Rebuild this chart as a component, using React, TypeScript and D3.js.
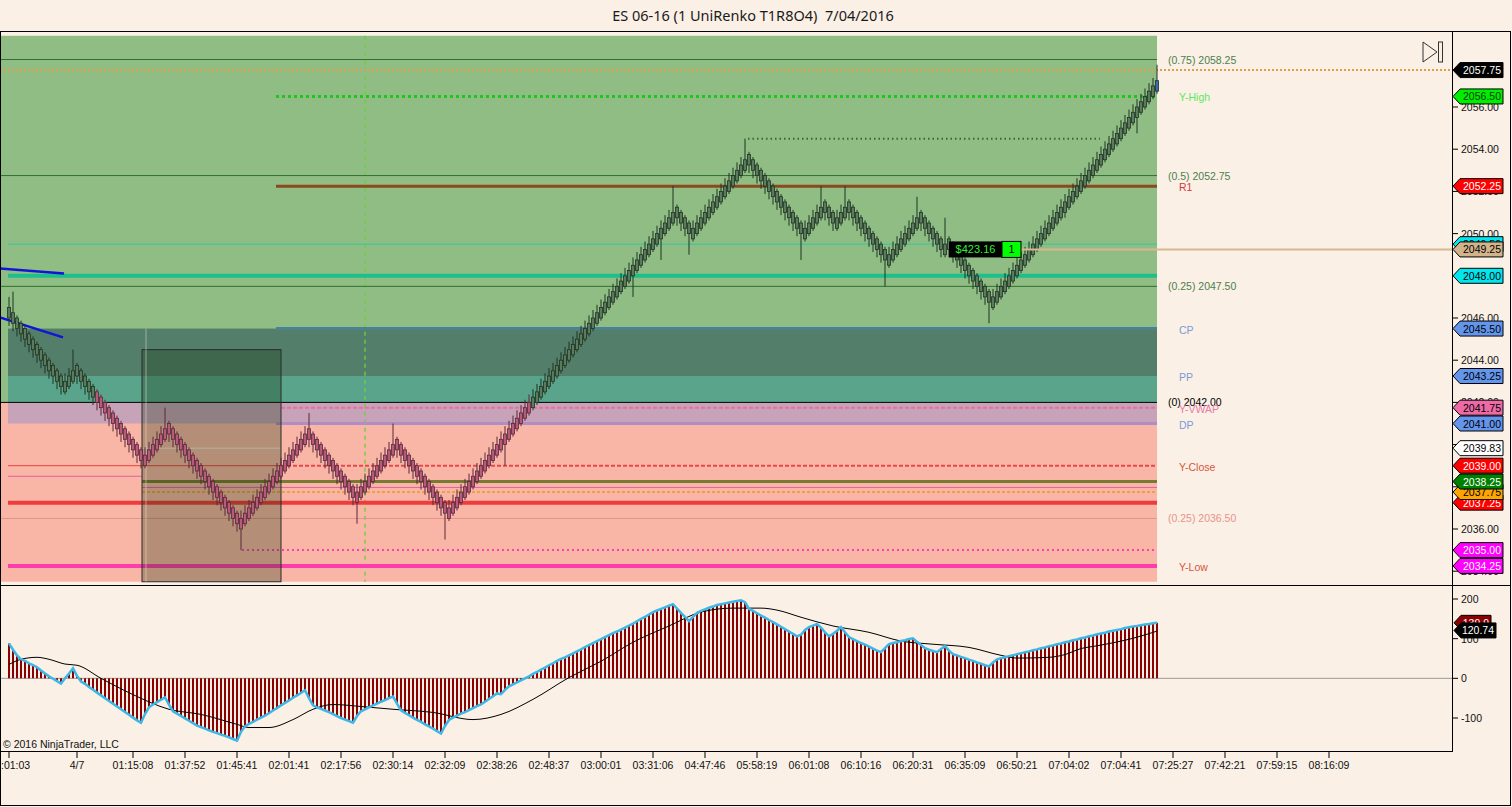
import React from 'react';
import * as d3 from 'd3';

const TITLE = 'ES 06-16 (1 UniRenko T1R8O4)  7/04/2016';
const COPYRIGHT = '© 2016 NinjaTrader, LLC';
const FONT = "'Liberation Sans', Arial, sans-serif";

// UniRenko closes, counted in ticks (0.25) from 2042.00
const TICK = 0.25;
const BASE = 2042;
const closeTicks = [
  16, 15, 14, 13, 12, 11, 10, 9, 8, 7,
  6, 5, 4, 3, 4, 5, 6, 5, 4, 3,
  2, 1, 0, -1, -2, -3, -4, -5, -6, -7,
  -8, -9, -10, -11, -10, -9, -8, -7, -6, -5,
  -6, -7, -8, -9, -10, -11, -12, -13, -14, -15,
  -16, -17, -18, -19, -20, -21, -22, -23, -22, -21,
  -20, -19, -18, -17, -16, -15, -14, -13, -12, -11,
  -10, -9, -8, -7, -6, -7, -8, -9, -10, -11,
  -12, -13, -14, -15, -16, -17, -18, -17, -16, -15,
  -14, -13, -12, -11, -10, -9, -8, -9, -10, -11,
  -12, -13, -14, -15, -16, -17, -18, -19, -20, -21,
  -20, -19, -18, -17, -16, -15, -14, -13, -12, -11,
  -10, -9, -8, -7, -6, -5, -4, -3, -2, -1,
  0, 1, 2, 3, 4, 5, 6, 7, 8, 9,
  10, 11, 12, 13, 14, 15, 16, 17, 18, 19,
  20, 21, 22, 23, 24, 25, 26, 27, 28, 29,
  30, 31, 32, 33, 34, 35, 36, 35, 34, 33,
  32, 33, 34, 35, 36, 37, 38, 39, 40, 41,
  42, 43, 44, 45, 46, 45, 44, 43, 42, 41,
  40, 39, 38, 37, 36, 35, 34, 33, 32, 33,
  34, 35, 36, 37, 36, 35, 34, 35, 36, 37,
  36, 35, 34, 33, 32, 31, 30, 29, 28, 27,
  28, 29, 30, 31, 32, 33, 34, 35, 34, 33,
  32, 31, 30, 29, 30, 29, 28, 27, 26, 25,
  24, 23, 22, 21, 20, 19, 20, 21, 22, 23,
  24, 25, 26, 27, 28, 29, 30, 31, 32, 33,
  34, 35, 36, 37, 38, 39, 40, 41, 42, 43,
  44, 45, 46, 47, 48, 49, 50, 51, 52, 53,
  54, 55, 56, 57, 58, 59, 60, 61,
];

// bars whose wick runs well past the body: [bar, extreme in ticks]
const longWicks: [number, number][] = [
  [0, 20], [1, 21], [16, 10], [39, -1], [58, -28], [75, -2], [87, -23], [96, -4],
  [109, -26], [124, -12], [156, 20], [163, 27], [166, 41], [170, 28], [184, 50],
  [198, 27], [203, 41], [209, 41], [219, 22], [227, 39], [234, 35], [245, 15],
  [264, 35], [282, 51], [287, 64],
];

// oscillator (histogram + cyan line), one value per bar
const oscValues = [
  88, 72, 58, 48, 44, 38, 33, 28, 20, 12,
  5, -1, -7, -13, 0, 12, 25, 6, -8, -14,
  -22, -29, -36, -43, -50, -57, -64, -71, -78, -85,
  -92, -99, -106, -112, -90, -73, -66, -60, -54, -48,
  -66, -83, -89, -95, -101, -107, -113, -119, -123, -127,
  -131, -135, -138, -142, -145, -149, -153, -157, -135, -121,
  -115, -110, -104, -99, -94, -88, -81, -75, -68, -62,
  -56, -49, -43, -37, -30, -50, -68, -73, -77, -81,
  -85, -90, -95, -100, -104, -108, -112, -95, -83, -78,
  -73, -68, -64, -59, -55, -50, -46, -64, -81, -87,
  -93, -99, -105, -110, -116, -121, -127, -133, -139, -120,
  -105, -99, -94, -89, -85, -80, -75, -70, -66, -59,
  -52, -45, -38, -40, -29, -20, -15, -10, -5, 0,
  5, 11, 16, 22, 27, 33, 38, 44, 49, 53,
  58, 63, 68, 73, 79, 84, 89, 94, 99, 104,
  109, 114, 118, 123, 128, 133, 138, 144, 150, 155,
  161, 167, 171, 175, 179, 183, 187, 176, 165, 155,
  144, 155, 165, 170, 174, 178, 181, 185, 187, 189,
  191, 193, 195, 197, 192, 175, 170, 164, 158, 153,
  147, 142, 136, 130, 124, 118, 112, 106, 110, 122,
  129, 133, 137, 128, 116, 106, 112, 120, 129, 116,
  104, 99, 94, 89, 85, 80, 75, 70, 66, 76,
  86, 89, 91, 94, 96, 99, 101, 92, 84, 76,
  72, 69, 66, 74, 81, 70, 61, 58, 54, 51,
  47, 44, 40, 37, 33, 30, 40, 48, 51, 53,
  56, 58, 61, 63, 66, 68, 71, 73, 76, 78,
  81, 83, 86, 88, 91, 93, 96, 98, 101, 103,
  106, 108, 111, 113, 115, 118, 120, 122, 124, 127,
  129, 131, 132, 134, 136, 137, 139, 140,
];

// signal line, read at [bar, value]
const signalPoints: [number, number][] = [
  [0, 35], [3, 48], [7, 53], [10, 48], [14, 36], [17, 33], [23, 0], [31, -41],
  [40, -78], [48, -91], [57, -116], [60, -124], [65, -124], [71, -104], [76, -78],
  [81, -66], [88, -71], [96, -78], [106, -86], [116, -104], [123, -91], [131, -53],
  [140, 2], [148, 43], [156, 91], [165, 132], [173, 167], [181, 177], [188, 177],
  [192, 172], [198, 154], [206, 132], [215, 116], [223, 94], [231, 86], [240, 78],
  [248, 58], [252, 51], [260, 53], [264, 60], [268, 75], [272, 82], [281, 101], [287, 119],
];

const timeLabels = [
  ':01:03', '4/7', '01:15:08', '01:37:52', '01:45:41', '02:01:41', '02:17:56', '02:30:14',
  '02:32:09', '02:38:26', '02:48:37', '03:00:01', '03:31:06', '04:47:46', '05:58:19',
  '06:01:08', '06:10:16', '06:20:31', '06:35:09', '06:50:21', '07:04:02', '07:04:41',
  '07:25:27', '07:42:21', '07:59:15', '08:16:09',
];
const timeLabelBars = [0, 17, 31, 44, 57, 70, 83, 96, 109, 122, 135, 148, 161, 174, 187,
  200, 213, 226, 239, 252, 265, 278, 291, 304, 317, 330];

const priceTicks = [2034, 2036, 2038, 2040, 2042, 2044, 2046, 2048, 2050, 2052, 2054, 2056];
const oscTicks = [-100, 0, 100, 200];

const fibPrices = [2058.25, 2052.75, 2047.5, 2042.0, 2036.5];
const fibLabels = ['(0.75) 2058.25', '(0.5) 2052.75', '(0.25) 2047.50', '(0) 2042.00', '(0.25) 2036.50'];

const pivotNames = ['Y-High', 'R1', 'CP', 'PP', 'Y-VWAP', 'DP', 'Y-Close', 'Y-Low'];
const pivotPrices = [2056.5, 2052.25, 2045.5, 2043.25, 2041.75, 2041.0, 2039.0, 2034.25];

const lastPrice = 2057.75;
const priorHigh = 2054.5;
const zoneTop = 2059.375;
const zoneBottom = 2033.5;
const boxTop = 2044.5;
const otherLevels = [2049.5, 2048.0, 2039.83, 2038.5, 2038.25, 2037.97, 2037.75, 2037.25, 2035.0];

const positionPrice = 2049.25;
const positionPnL = '$423.16';
const positionQty = '1';

const trendLines: [number, number][][] = [
  [[-2.25, 2048.35], [13.75, 2048.11]],
  [[-2.25, 2046.03], [13.5, 2045.08]],
];

const markerPrices = [2057.75, 2056.5, 2052.25, 2049.5, 2049.25, 2048.0, 2045.5, 2043.25,
  2041.75, 2041.0, 2039.83, 2039.0, 2037.25, 2037.75, 2038.25, 2035.0, 2034.25];
const oscLast = 139.9;
const signalLast = 120.74;

export default function App() {
  const xb = d3.scaleLinear().domain([0, 330]).range([9, 1329]);
  const yP = d3.scaleLinear().domain([2036, 2056]).range([529, 107]);
  const yO = d3.scaleLinear().domain([-100, 200]).range([718, 599]);
  const px = (t: number) => BASE + t * TICK;

  const AXIS_X = 1452;

  // candles
  let dir = -1;
  const candles = closeTicks.map((t, i) => {
    if (i > 0 && t !== closeTicks[i - 1]) dir = t > closeTicks[i - 1] ? 1 : -1;
    const o = t - dir * 2;
    let hi = dir > 0 ? t + 1.5 : o + 0.5;
    let lo = dir > 0 ? o - 0.5 : t - 1.5;
    const w = longWicks.find((d) => d[0] === i);
    if (w) { if (w[1] > hi) hi = w[1]; if (w[1] < lo) lo = w[1]; }
    return { i, c: px(t), o: px(o), h: px(hi), l: px(lo) };
  });

  const cyanLine = d3.line<number>().x((_, i) => xb(i)).y((v) => yO(v));
  const signalLine = d3.line<[number, number]>()
    .x((d) => xb(d[0])).y((d) => yO(d[1])).curve(d3.curveMonotoneX);
  const trendLine = d3.line<[number, number]>().x((d) => xb(d[0])).y((d) => yP(d[1]));

  // horizontal levels: price, from bar, to bar, colour, width, dash
  const hLines: [number, number, number, string, number, string?][] = [
    [fibPrices[0], -2.25, 287, '#2f6f2f', 1],
    [fibPrices[1], -2.25, 287, '#2f6f2f', 1],
    [fibPrices[2], -2.25, 287, '#2f6f2f', 1],
    [fibPrices[4], -2.25, 287, '#e3928a', 1],
    [lastPrice, -2.25, 360.75, '#e0a048', 2, '2,2'],
    [pivotPrices[0], 66.75, 287, '#22c422', 3, '3,3'],
    [priorHigh, 184.75, 272.75, '#2f6a2f', 2, '1.5,3'],
    [pivotPrices[1], 66.75, 287, '#8b4a1e', 3],
    [otherLevels[0], -0.25, 287, '#2fc9a0', 1],
    [otherLevels[1], -0.25, 287, '#1fbf8b', 4],
    [pivotPrices[2], 66.75, 287, '#4a8294', 3],
    [pivotPrices[4], 68, 287, '#e8709a', 2, '4,2'],
    [pivotPrices[5], 66.75, 287, '#b08ec4', 3],
    [otherLevels[2], 33.25, 68, '#f6ece2', 1],
    [pivotPrices[6], -0.25, 68, '#e84040', 1],
    [pivotPrices[6], 68, 287, '#e84848', 2, '4,2'],
    [otherLevels[3], -0.25, 33.25, '#e060a0', 1],
    [otherLevels[5], 33.25, 287, '#e060a0', 1],
    [otherLevels[4], 33.25, 287, '#777a30', 3],
    [otherLevels[6], 33.25, 287, '#f0a040', 2, '3,2'],
    [otherLevels[7], -0.25, 287, '#ee3b3b', 4],
    [otherLevels[8], 58.25, 287, '#ff40b0', 2, '2,3'],
    [pivotPrices[7], -0.25, 287, '#ff3cac', 4],
    [fibPrices[3], -2.25, 287, '#000000', 1],
  ];

  const fibColors = ['#4d7f4d', '#4d7f4d', '#4d7f4d', '#000000', '#e8938a'];
  const pivotColors = ['#5ee65e', '#d43a3a', '#7a9ad8', '#7a9ad8', '#e87aa8', '#7a9ad8', '#d9553d', '#d9553d'];
  const markerColors: [string, string][] = [
    ['#000000', '#ffffff'], ['#00ee00', '#0a3a0a'], ['#ff0000', '#ffffff'], ['#00e5ee', '#000000'],
    ['#d2b48c', '#000000'], ['#00e5ee', '#000000'], ['#6495ed', '#000000'], ['#6495ed', '#000000'],
    ['#ee6aa7', '#000000'], ['#6495ed', '#000000'], ['#ffffff', '#000000'], ['#ff0000', '#ffffff'],
    ['#ff0000', '#ffffff'], ['#ffa500', '#000000'], ['#008000', '#ffffff'], ['#ff00ff', '#ffffff'],
    ['#ff00ff', '#ffffff'],
  ];

  const marker = (cy: number, x0: number, x1: number) =>
    `M${x0},${cy} L${x0 + 7},${cy - 7.5} L${x1},${cy - 7.5} L${x1},${cy + 7.5} L${x0 + 7},${cy + 7.5} Z`;

  const rectP = (b0: number, b1: number, p0: number, p1: number, fill: string) => (
    <rect x={xb(b0)} y={yP(p0)} width={xb(b1) - xb(b0)} height={yP(p1) - yP(p0)} fill={fill} />
  );

  const posY = yP(positionPrice);

  return (
    <svg width={1512} height={807} style={{ position: 'fixed', left: 0, top: 0 }} fontFamily={FONT}>
      <rect width={1512} height={807} fill="#faf0e6" />
      <text x={753} y={21} textAnchor="middle" fontSize={14.5} fill="#1a1a1a"
        fontFamily="'Noto Sans', 'Open Sans', sans-serif" style={{ whiteSpace: 'pre' }}>{TITLE}</text>

      {/* zones */}
      {rectP(-2.25, 287, zoneTop, fibPrices[3], '#90bd84')}
      {rectP(-2.25, 287, fibPrices[3], zoneBottom, '#f9b6a7')}
      {rectP(-0.25, 287, pivotPrices[2], pivotPrices[3], '#527e6a')}
      {rectP(-0.25, 287, pivotPrices[3], fibPrices[3], '#59a48b')}
      {rectP(-0.25, 287, fibPrices[3], pivotPrices[5], '#c6a3b8')}
      <line x1={xb(89)} x2={xb(89)} y1={yP(zoneTop)} y2={yP(zoneBottom)} stroke="#6fcf3f"
        strokeWidth={2} strokeDasharray="4,4" opacity={0.7} />

      {hLines.map(([p, b0, b1, c, w, dash], k) => (
        <line key={k} x1={xb(b0)} x2={xb(b1)} y1={yP(p)} y2={yP(p)} stroke={c} strokeWidth={w}
          strokeDasharray={dash} />
      ))}

      {/* box */}
      <rect x={xb(33.25)} y={yP(boxTop)} width={xb(68) - xb(33.25)} height={yP(zoneBottom) - yP(boxTop)}
        fill="rgba(20,50,10,0.3)" stroke="#2a2a2a" strokeWidth={1} />
      <line x1={xb(34.25)} x2={xb(34.25)} y1={yP(pivotPrices[2])} y2={yP(zoneBottom)} stroke="#f3e4d6"
        strokeWidth={1} opacity={0.5} />

      {trendLines.map((d, k) => (
        <path key={k} d={trendLine(d) ?? ''} stroke="#1414d8" strokeWidth={2.5} fill="none" />
      ))}

      {/* candles */}
      {candles.map((d) => {
        const pink = d.c < BASE + 0.25;
        const last = d.i === closeTicks.length - 1;
        const stroke = pink ? '#5a2838' : '#1f3522';
        const fill = last ? '#3a6ab0' : pink ? '#b85a7c' : '#5c7a5e';
        const top = yP(Math.max(d.o, d.c));
        const bot = yP(Math.min(d.o, d.c));
        return (
          <g key={d.i}>
            <line x1={xb(d.i)} x2={xb(d.i)} y1={yP(d.h)} y2={yP(d.l)} stroke={stroke} strokeWidth={1} />
            <rect x={xb(d.i) - 1.5} y={top} width={3} height={bot - top} fill={fill} stroke={stroke}
              strokeWidth={0.8} />
          </g>
        );
      })}

      {/* position */}
      <line x1={1021} x2={AXIS_X} y1={posY} y2={posY} stroke="#d8b890" strokeWidth={2} />
      <rect x={949} y={posY - 8} width={53} height={16} fill="#000" />
      <text x={975.5} y={posY + 4} textAnchor="middle" fontSize={11} fill="#33ee33">{positionPnL}</text>
      <rect x={1002} y={posY - 8} width={19} height={16} fill="#00ff00" stroke="#000" />
      <text x={1011.5} y={posY + 4} textAnchor="middle" fontSize={11} fill="#000">{positionQty}</text>

      {/* zone labels */}
      {fibLabels.map((s, k) => (
        <text key={s} x={1168} y={yP(fibPrices[k]) + 4} fontSize={10.5} fill={fibColors[k]}>{s}</text>
      ))}
      {pivotNames.map((s, k) => (
        <text key={s} x={1179} y={yP(pivotPrices[k]) + 5} fontSize={10.5} fill={pivotColors[k]}>{s}</text>
      ))}

      {/* go-to-end button */}
      <path d="M1423,42 L1437,52 L1423,62 Z" fill="none" stroke="#333" strokeWidth={1} />
      <rect x={1438.5} y={42} width={4} height={20} fill="none" stroke="#333" strokeWidth={1} />

      {/* oscillator */}
      <line x1={0} x2={AXIS_X} y1={yO(0)} y2={yO(0)} stroke="#9a9a9a" strokeWidth={1} />
      {oscValues.map((v, i) => (
        <line key={i} x1={xb(i)} x2={xb(i)} y1={yO(0)} y2={yO(v)} stroke="#8b0000" strokeWidth={2} />
      ))}
      <path d={signalLine(signalPoints) ?? ''} fill="none" stroke="#000" strokeWidth={1} />
      <path d={cyanLine(oscValues) ?? ''} fill="none" stroke="#3cb8e8" strokeWidth={2.5} />
      <text x={3} y={748} fontSize={10.5} fill="#111">{COPYRIGHT}</text>

      {/* frame */}
      <rect x={0.5} y={31.5} width={1510} height={774} fill="none" stroke="#000" />
      <line x1={0} x2={1511} y1={585.5} y2={585.5} stroke="#000" />
      <line x1={0} x2={AXIS_X} y1={751.5} y2={751.5} stroke="#000" />
      <line x1={AXIS_X + 0.5} x2={AXIS_X + 0.5} y1={31} y2={752} stroke="#000" />

      {/* price axis */}
      {priceTicks.map((p) => (
        <g key={p}>
          <line x1={AXIS_X} x2={AXIS_X + 6} y1={yP(p)} y2={yP(p)} stroke="#000" />
          <text x={1461} y={yP(p) + 4} fontSize={10.5} fill="#111">{p.toFixed(2)}</text>
        </g>
      ))}
      {markerPrices.map((p, k) => (
        <g key={k}>
          <path d={marker(yP(p), 1453, 1503)} fill={markerColors[k][0]} stroke="#000" strokeWidth={1} />
          <text x={1501} y={yP(p) + 4} textAnchor="end" fontSize={10.5} fill={markerColors[k][1]}>
            {p.toFixed(2)}
          </text>
        </g>
      ))}

      {/* oscillator axis */}
      {oscTicks.map((v) => (
        <g key={v}>
          <line x1={AXIS_X} x2={AXIS_X + 6} y1={yO(v)} y2={yO(v)} stroke="#000" />
          <text x={1461} y={yO(v) + 4} fontSize={10.5} fill="#111">{v}</text>
        </g>
      ))}
      <path d={marker(yO(oscLast), 1454, 1491)} fill="#8b0000" stroke="#000" />
      <text x={1489} y={yO(oscLast) + 4} textAnchor="end" fontSize={10.5} fill="#fff">{oscLast.toFixed(1)}</text>
      <path d={marker(yO(signalLast), 1454, 1496)} fill="#000" stroke="#000" />
      <text x={1494} y={yO(signalLast) + 4} textAnchor="end" fontSize={10.5} fill="#fff">{signalLast.toFixed(2)}</text>

      {/* time axis */}
      {timeLabels.map((s, k) => {
        const x = xb(timeLabelBars[k]);
        return (
          <g key={s + k}>
            <line x1={x} x2={x} y1={752} y2={758} stroke="#000" />
            {k === 0
              ? <text x={1} y={769} fontSize={10.5} fill="#111">{s}</text>
              : <text x={x} y={769} textAnchor="middle" fontSize={10.5} fill="#111">{s}</text>}
          </g>
        );
      })}
    </svg>
  );
}
